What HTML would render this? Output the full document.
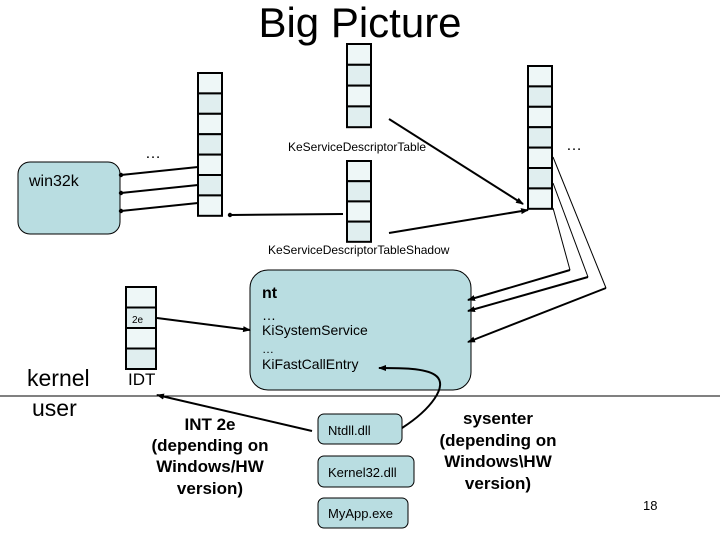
<!DOCTYPE html>
<html><head><meta charset="utf-8"><style>
html,body{margin:0;padding:0;background:#fff;}
svg{display:block;font-family:"Liberation Sans",Arial,sans-serif;}
</style></head><body>
<svg width="720" height="540" viewBox="0 0 720 540" xmlns="http://www.w3.org/2000/svg">
<defs>
<marker id="a" markerWidth="8" markerHeight="8" refX="7" refY="4" orient="auto" markerUnits="userSpaceOnUse"><path d="M0,1 L8,4 L0,7 z" fill="#000"/></marker>
<marker id="d" markerWidth="6" markerHeight="6" refX="3" refY="3" markerUnits="userSpaceOnUse"><circle cx="3" cy="3" r="2.2" fill="#000"/></marker>
</defs>
<text x="360" y="37" font-size="42" text-anchor="middle">Big Picture</text>

<g stroke="#000" stroke-width="2">
<g>
<rect x="198" y="73" width="24" height="20.4" fill="#eef7f7"/><rect x="198" y="93.4" width="24" height="20.4" fill="#e0eeef"/><rect x="198" y="113.8" width="24" height="20.4" fill="#eef7f7"/><rect x="198" y="134.2" width="24" height="20.4" fill="#e0eeef"/><rect x="198" y="154.6" width="24" height="20.4" fill="#eef7f7"/><rect x="198" y="175" width="24" height="20.4" fill="#e0eeef"/><rect x="198" y="195.4" width="24" height="20.4" fill="#eef7f7"/>
</g>
<g>
<rect x="347" y="44" width="24" height="20.8" fill="#eef7f7"/><rect x="347" y="64.8" width="24" height="20.8" fill="#e0eeef"/><rect x="347" y="85.6" width="24" height="20.8" fill="#eef7f7"/><rect x="347" y="106.4" width="24" height="20.8" fill="#e0eeef"/>
</g>
<g>
<rect x="347" y="161" width="24" height="20.2" fill="#eef7f7"/><rect x="347" y="181.2" width="24" height="20.2" fill="#e0eeef"/><rect x="347" y="201.4" width="24" height="20.2" fill="#eef7f7"/><rect x="347" y="221.6" width="24" height="20.2" fill="#e0eeef"/>
</g>
<g>
<rect x="528" y="66" width="24" height="20.4" fill="#eef7f7"/><rect x="528" y="86.4" width="24" height="20.4" fill="#e0eeef"/><rect x="528" y="106.8" width="24" height="20.4" fill="#eef7f7"/><rect x="528" y="127.2" width="24" height="20.4" fill="#e0eeef"/><rect x="528" y="147.6" width="24" height="20.4" fill="#eef7f7"/><rect x="528" y="168" width="24" height="20.4" fill="#e0eeef"/><rect x="528" y="188.4" width="24" height="20.4" fill="#eef7f7"/>
</g>
<g>
<rect x="126" y="287" width="30" height="20.5" fill="#eef7f7"/><rect x="126" y="307.5" width="30" height="20.5" fill="#e0eeef"/><rect x="126" y="328" width="30" height="20.5" fill="#eef7f7"/><rect x="126" y="348.5" width="30" height="20.5" fill="#e0eeef"/>
</g>
</g>

<rect x="18" y="162" width="102" height="72" rx="12" fill="#b9dde1" stroke="#000" stroke-width="1"/>
<rect x="250" y="270" width="221" height="120" rx="18" fill="#b9dde1" stroke="#000" stroke-width="1"/>
<rect x="318" y="414" width="84" height="30" rx="6" fill="#b9dde1" stroke="#000" stroke-width="1"/>
<rect x="318" y="456" width="96" height="31" rx="6" fill="#b9dde1" stroke="#000" stroke-width="1"/>
<rect x="318" y="498" width="90" height="30" rx="6" fill="#b9dde1" stroke="#000" stroke-width="1"/>

<line x1="0" y1="396" x2="720" y2="396" stroke="#000" stroke-width="1"/>

<g stroke="#000" stroke-width="2" fill="none">
<line x1="198" y1="167" x2="121" y2="175" marker-end="url(#d)"/>
<line x1="198" y1="185" x2="121" y2="193" marker-end="url(#d)"/>
<line x1="198" y1="203" x2="121" y2="211" marker-end="url(#d)"/>
<line x1="230" y1="215" x2="343" y2="214" marker-start="url(#d)"/>
<line x1="389" y1="119" x2="523" y2="204" marker-end="url(#a)"/>
<line x1="389" y1="233" x2="528" y2="210" marker-end="url(#a)"/>
<line x1="157" y1="318" x2="250" y2="330" marker-end="url(#a)"/>
<line x1="312" y1="431" x2="157" y2="395" marker-end="url(#a)"/>
<path d="M402,428 C430,410 450,385 435,375 C425,368 400,368 379,368" marker-end="url(#a)"/>
</g>
<g stroke="#000" stroke-width="1" fill="none">
<polyline points="553,157 606,288"/>
<polyline points="553,183 588,277"/>
<polyline points="553,208 570,270"/>
</g>
<g stroke="#000" stroke-width="2" fill="none">
<line x1="606" y1="288" x2="468" y2="342" marker-end="url(#a)"/>
<line x1="588" y1="277" x2="468" y2="311" marker-end="url(#a)"/>
<line x1="570" y1="270" x2="468" y2="300" marker-end="url(#a)"/>
</g>

<text x="145" y="158" font-size="16">…</text>
<text x="566" y="150" font-size="16">…</text>
<text x="29" y="186" font-size="16">win32k</text>
<text x="288" y="151" font-size="12">KeServiceDescriptorTable</text>
<text x="268" y="254" font-size="12">KeServiceDescriptorTableShadow</text>
<text x="262" y="298" font-size="16" font-weight="bold">nt</text>
<text x="262" y="320" font-size="14">…</text>
<text x="262" y="335" font-size="14">KiSystemService</text>
<text x="262" y="353" font-size="12">…</text>
<text x="262" y="369" font-size="14">KiFastCallEntry</text>
<text x="132" y="323" font-size="10">2e</text>
<text x="128" y="385" font-size="17">IDT</text>
<text x="27" y="386" font-size="23">kernel</text>
<text x="32" y="416" font-size="23">user</text>
<g font-size="17" font-weight="bold" text-anchor="middle">
<text x="210" y="430">INT 2e</text>
<text x="210" y="451">(depending on</text>
<text x="210" y="472">Windows/HW</text>
<text x="210" y="494">version)</text>
<text x="498" y="424">sysenter</text>
<text x="498" y="446">(depending on</text>
<text x="498" y="467">Windows\HW</text>
<text x="498" y="489">version)</text>
</g>
<text x="328" y="435" font-size="13">Ntdll.dll</text>
<text x="328" y="477" font-size="13">Kernel32.dll</text>
<text x="328" y="518" font-size="13">MyApp.exe</text>
<text x="643" y="510" font-size="13">18</text>
</svg>
</body></html>
